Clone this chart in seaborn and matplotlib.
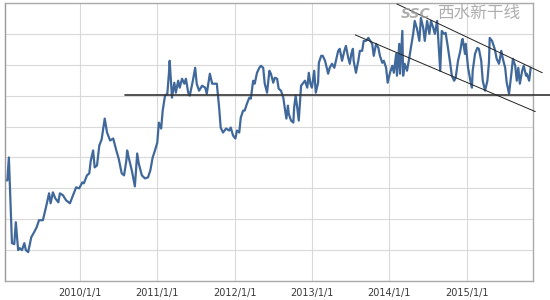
import matplotlib
matplotlib.use("Agg")
import matplotlib.pyplot as plt
import seaborn as sns
import pandas as pd

# decimal-year positions of the series samples
years = [
    2009.03, 2009.06, 2009.08, 2009.12, 2009.15, 2009.17, 2009.20, 2009.22, 2009.25, 2009.28,
    2009.30, 2009.33, 2009.37, 2009.40, 2009.44, 2009.47, 2009.52, 2009.56, 2009.60, 2009.62,
    2009.65, 2009.68, 2009.72, 2009.74, 2009.78, 2009.82, 2009.87, 2009.91, 2009.95, 2009.99,
    2010.03, 2010.05, 2010.09, 2010.12, 2010.14, 2010.17, 2010.19, 2010.22, 2010.25, 2010.28,
    2010.32, 2010.35, 2010.39, 2010.43, 2010.47, 2010.50, 2010.54, 2010.57, 2010.60, 2010.61,
    2010.63, 2010.67, 2010.71, 2010.74, 2010.76, 2010.80, 2010.84, 2010.88, 2010.91, 2010.94,
    2010.97, 2011.00, 2011.02, 2011.05, 2011.07, 2011.10, 2011.13, 2011.15, 2011.16, 2011.19,
    2011.22, 2011.24, 2011.27, 2011.29, 2011.32, 2011.35, 2011.37, 2011.40, 2011.42, 2011.46,
    2011.49, 2011.51, 2011.54, 2011.58, 2011.62, 2011.64, 2011.68, 2011.71, 2011.73, 2011.77,
    2011.80, 2011.82, 2011.85, 2011.89, 2011.93, 2011.95, 2011.98, 2012.01, 2012.03, 2012.06,
    2012.08, 2012.11, 2012.13, 2012.16, 2012.19, 2012.21, 2012.24, 2012.26, 2012.29, 2012.32,
    2012.34, 2012.37, 2012.39, 2012.42, 2012.45, 2012.47, 2012.50, 2012.52, 2012.55, 2012.57,
    2012.60, 2012.63, 2012.65, 2012.67, 2012.69, 2012.70, 2012.73, 2012.76, 2012.77, 2012.79,
    2012.81, 2012.83, 2012.86, 2012.88, 2012.91, 2012.94, 2012.96, 2012.98, 2013.00, 2013.03,
    2013.05, 2013.08, 2013.09, 2013.12, 2013.14, 2013.17, 2013.20, 2013.21, 2013.23, 2013.26,
    2013.29, 2013.31, 2013.34, 2013.36, 2013.39, 2013.42, 2013.44, 2013.47, 2013.49, 2013.51,
    2013.53, 2013.54, 2013.57, 2013.60, 2013.62, 2013.65, 2013.67, 2013.70, 2013.73, 2013.78,
    2013.80, 2013.83, 2013.86, 2013.88, 2013.91, 2013.93, 2013.96, 2013.98, 2014.01, 2014.04,
    2014.06, 2014.09, 2014.10, 2014.13, 2014.14, 2014.17, 2014.18, 2014.20, 2014.23, 2014.26,
    2014.28, 2014.31, 2014.33, 2014.36, 2014.39, 2014.41, 2014.44, 2014.46, 2014.49, 2014.52,
    2014.54, 2014.57, 2014.59, 2014.62, 2014.66, 2014.68, 2014.71, 2014.73, 2014.76, 2014.79,
    2014.81, 2014.84, 2014.86, 2014.89, 2014.92, 2014.94, 2014.95, 2014.98, 2014.99, 2015.02,
    2015.05, 2015.07, 2015.08, 2015.11, 2015.14, 2015.16, 2015.19, 2015.21, 2015.24, 2015.27,
    2015.29, 2015.30, 2015.33, 2015.36, 2015.37, 2015.39, 2015.42, 2015.45, 2015.47, 2015.50,
    2015.52, 2015.55, 2015.58, 2015.60, 2015.63, 2015.65, 2015.67, 2015.69, 2015.72, 2015.74,
    2015.77, 2015.78, 2015.81, 2015.83,
]

# series values (arbitrary index units; one grid step = 31)
values = [
    101, 101, 124, 38, 37, 59, 31, 33, 31, 38,
    31, 29, 44, 48, 54, 61, 61, 74, 88, 78,
    89, 83, 79, 88, 86, 81, 78, 86, 94, 93,
    99, 98, 106, 108, 121, 131, 114, 116, 136, 142,
    163, 149, 141, 143, 131, 123, 108, 106, 121, 131,
    124, 111, 95, 128, 118, 106, 103, 104, 111, 124,
    131, 139, 159, 153, 171, 186, 188, 208, 221, 184,
    199, 189, 201, 194, 203, 198, 203, 189, 186, 201,
    214, 198, 191, 196, 194, 188, 208, 198, 198, 198,
    174, 154, 149, 153, 151, 154, 146, 143, 151, 149,
    164, 171, 171, 178, 184, 183, 201, 198, 209, 214,
    216, 214, 198, 189, 211, 208, 199, 204, 203, 193,
    191, 184, 173, 163, 176, 168, 161, 159, 174, 186,
    174, 161, 196, 198, 201, 194, 209, 198, 194, 211,
    189, 199, 219, 226, 226, 221, 211, 208, 214, 218,
    214, 221, 231, 233, 221, 231, 236, 224, 218, 228,
    233, 221, 209, 221, 231, 231, 241, 241, 244, 238,
    226, 238, 234, 226, 219, 221, 214, 199, 209, 216,
    209, 228, 206, 238, 208, 251, 206, 218, 211, 224,
    234, 248, 261, 253, 241, 264, 254, 241, 261, 248,
    261, 254, 248, 261, 211, 251, 248, 249, 234, 218,
    206, 201, 204, 221, 231, 241, 243, 228, 238, 214,
    201, 194, 211, 228, 234, 233, 221, 201, 191, 201,
    219, 244, 241, 234, 231, 223, 218, 231, 223, 214,
    199, 188, 208, 223, 216, 201, 214, 198, 211, 216,
    206, 208, 201, 214,
]

tick_years = [2010, 2011, 2012, 2013, 2014, 2015]
tick_labels = ["2010/1/1", "2011/1/1", "2012/1/1", "2013/1/1", "2014/1/1", "2015/1/1"]

# annotation lines (support + descending channel)
support_x = [2010.58, 2016.08]
support_y = [187, 187]
upper_x = [2014.10, 2015.98]
upper_y = [278, 209]
lower_x = [2013.56, 2015.89]
lower_y = [247, 170]

df = pd.DataFrame({"year": years, "value": values})

sns.set_style("white")
plt.rcParams["font.family"] = ["DejaVu Sans"]

fig = plt.figure(figsize=(5.5, 3.0), dpi=100)
ax = fig.add_axes([5 / 550, 19 / 300, 528 / 550, 278 / 300])

sns.lineplot(data=df, x="year", y="value", ax=ax, color="#40689a", linewidth=1.6)

ax.plot(support_x, support_y, color="#333333", linewidth=1.2, clip_on=False, zorder=3)
ax.plot(upper_x, upper_y, color="#222222", linewidth=0.7, clip_on=False, zorder=3)
ax.plot(lower_x, lower_y, color="#222222", linewidth=0.7, clip_on=False, zorder=3)

ax.set_xlim(2009.03, 2015.86)
ax.set_ylim(0, 279)
ax.set_xticks(tick_years)
ax.set_xticklabels(tick_labels, fontsize=7, color="#3a3a3a")
ax.set_yticks(range(0, 280, 31))
ax.set_yticklabels([])
ax.tick_params(axis="both", length=0, pad=5)
ax.grid(True, color="#d9d9d9", linewidth=0.8)
ax.set_axisbelow(True)
ax.set_xlabel("")
ax.set_ylabel("")
for s in ax.spines.values():
    s.set_color("#aaaaaa")
    s.set_linewidth(1.0)
ax.spines["left"].set_color("#999999")

fig.text(0.87, 0.955, "西水新干线", fontsize=12, color="#9a9a9a", alpha=0.8,
         ha="center", va="center", style="italic",
         family=["Noto Sans CJK SC", "DejaVu Sans"])
fig.text(0.755, 0.955, "SSC", fontsize=10, color="#9a9a9a", alpha=0.8,
         ha="center", va="center", weight="bold", style="italic")

fig.savefig("out.png", dpi=100)
